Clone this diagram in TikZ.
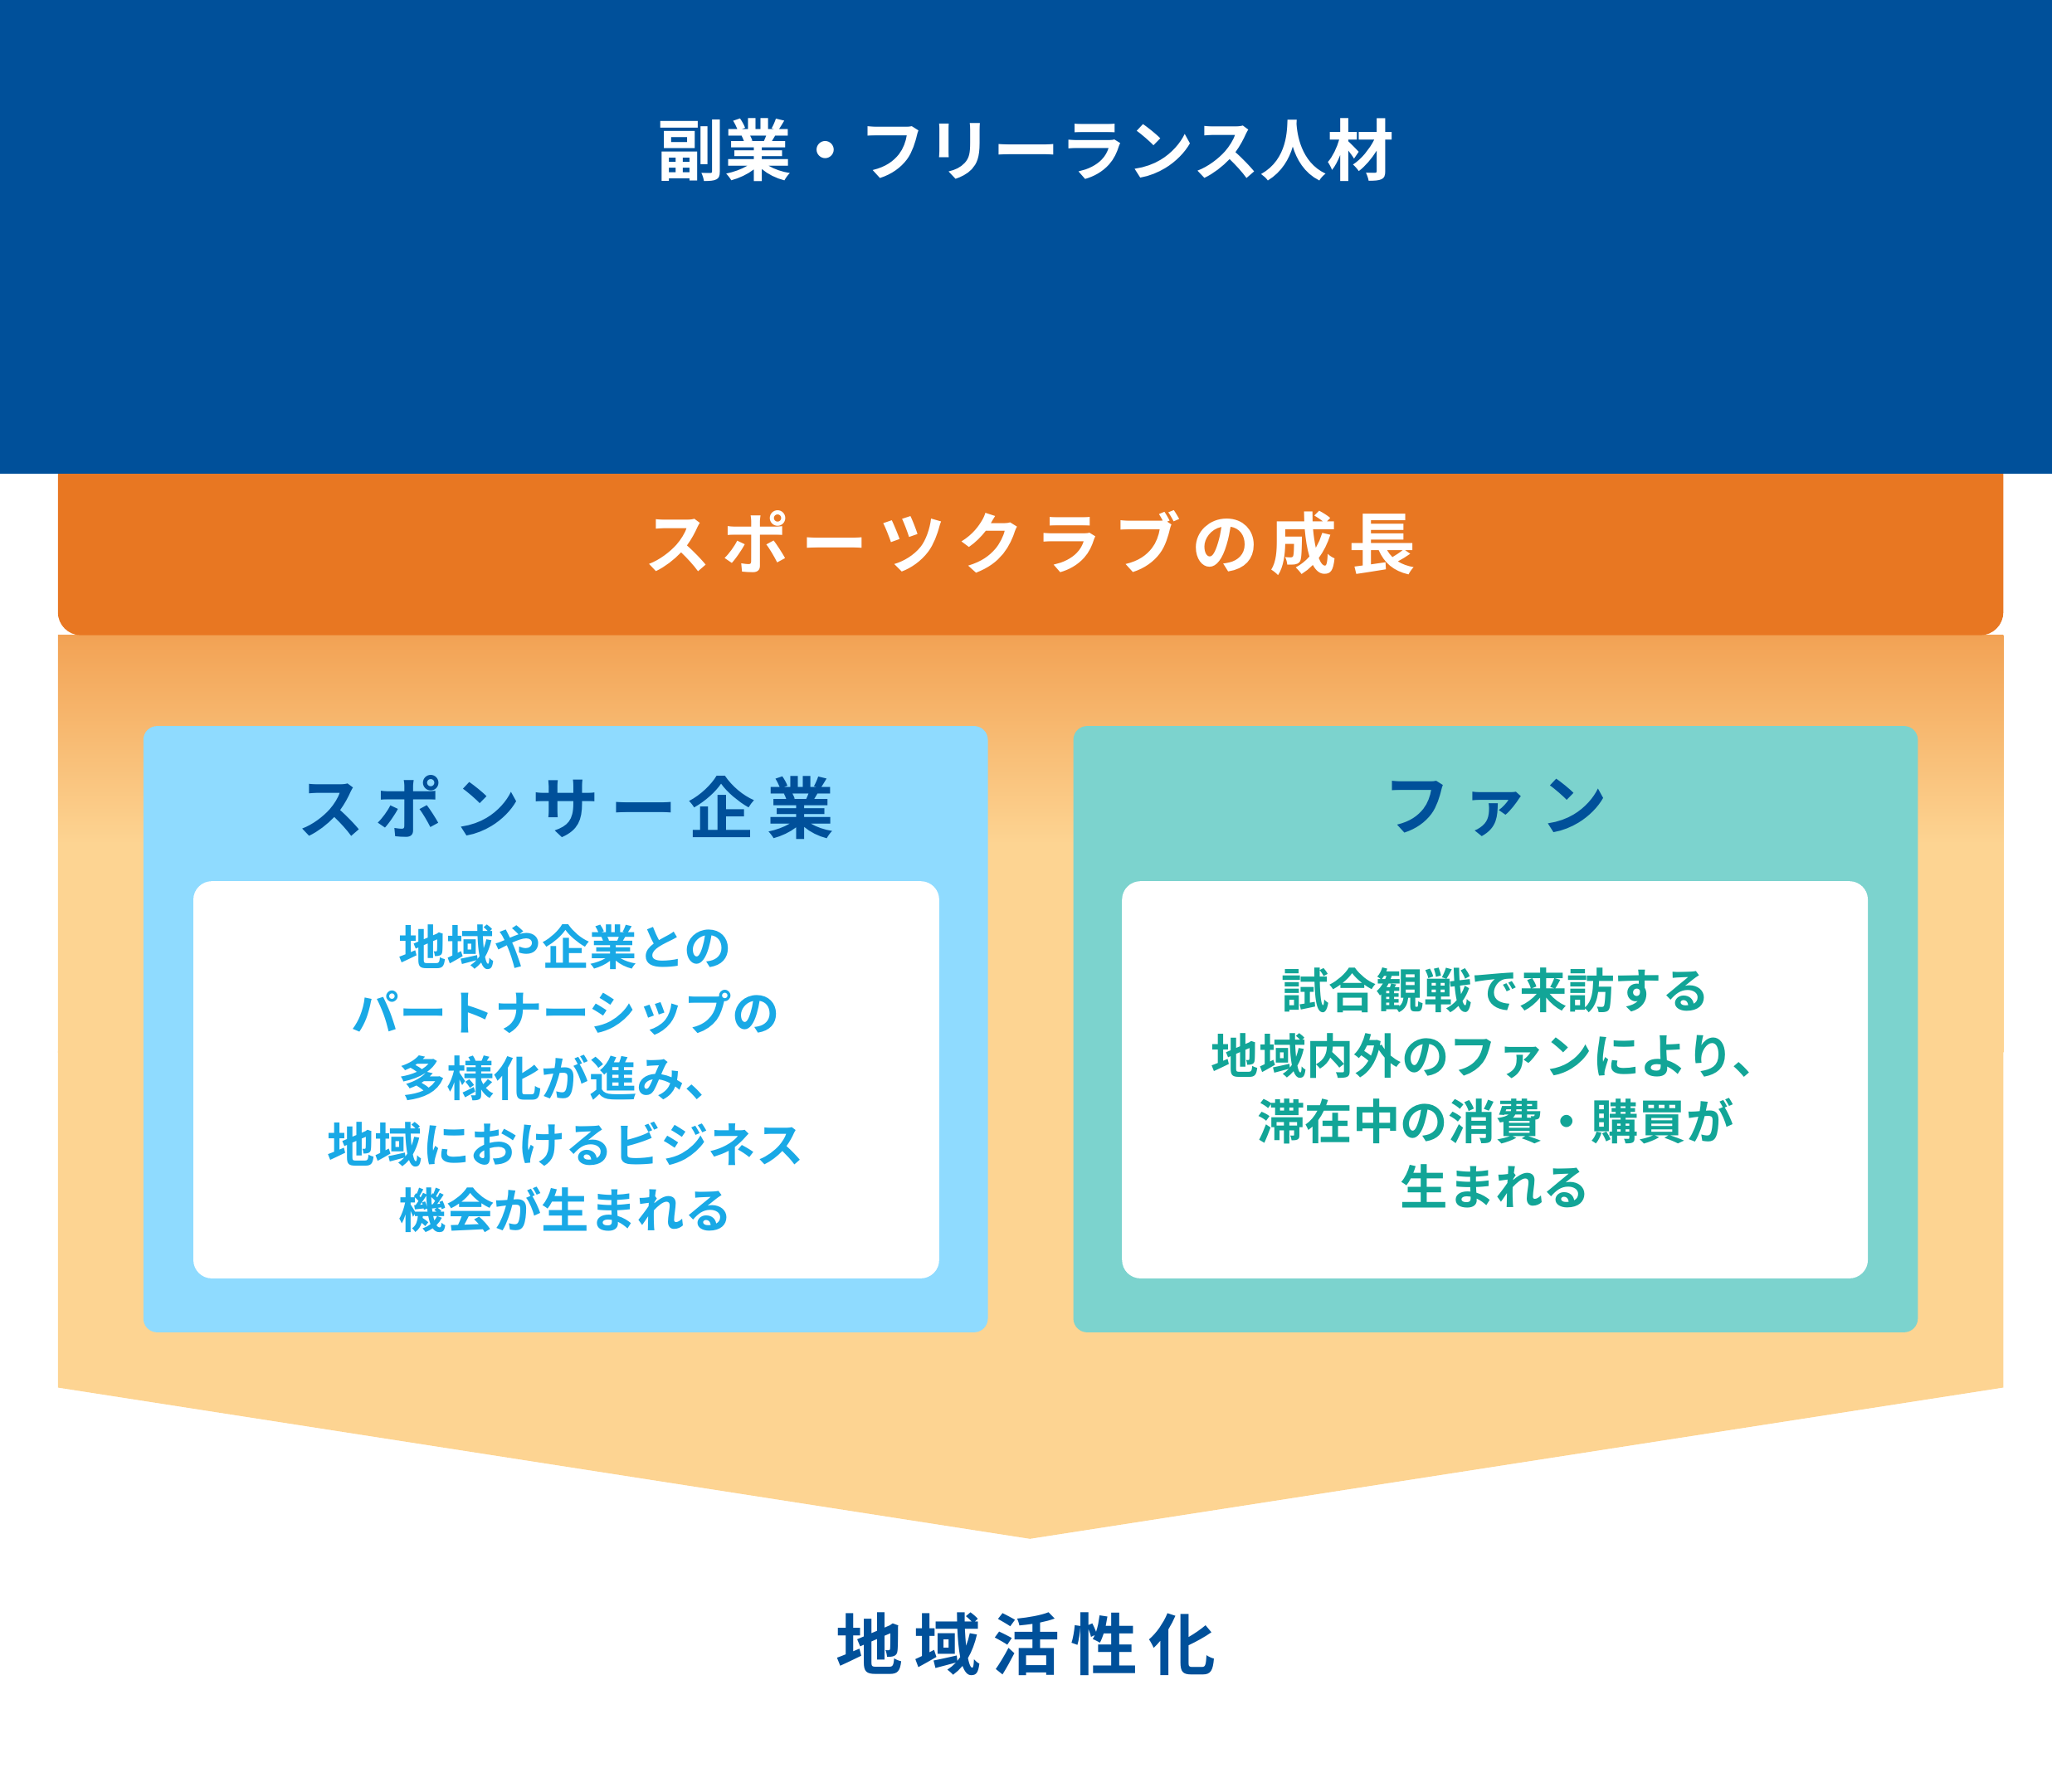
\documentclass[tikz,border=0pt]{standalone}
\usepackage{fontspec}
\setmainfont{Noto Sans CJK JP Bold}
\usetikzlibrary{shapes.misc}
\definecolor{navy}{HTML}{00509A}
\definecolor{orng}{HTML}{E87722}
\definecolor{gtop}{HTML}{F2A254}
\definecolor{gbot}{HTML}{FDD492}
\definecolor{lblue}{HTML}{8FDBFF}
\definecolor{lteal}{HTML}{7CD3CE}
\definecolor{tblue}{HTML}{19A9E6}
\definecolor{tteal}{HTML}{12A597}
\begin{document}
\begin{tikzpicture}[x=0.01cm,y=-0.01cm,
  big/.style={font=\fontsize{14.5pt}{17pt}\selectfont},
  body/.style={font=\fontsize{10.3pt}{14.2pt}\selectfont,align=center}]
\useasboundingbox (0,0) rectangle (1560,1362);
% gradient body
\shade[top color=gtop,bottom color=gbot,middle color=gbot,shading angle=0]
  (44,483) rectangle (1523,800);
\fill[gbot] (44,799) -- (1523,799) -- (1523,1055) -- (783,1170) -- (44,1055) -- cycle;
\fill[orng,rounded corners=5] (44,483) -- (44,342) -- (1523,342) -- (1523,483) -- cycle;
\node[big,text=white] (hdr) at (783,413) {ス\,ポ\,ー\,ツ\,ク\,ラ\,ブ\,の\,成\,長};
% top pill
\node[rounded rectangle,fill=navy,minimum width=704,minimum height=140,big,text=white,inner sep=0] (top) at (780,114) {副業・フリーランス人材};
\fill[navy] (745,183) -- (815,183) -- (815,237) -- (850,237) -- (780,340) -- (710,237) -- (745,237) -- cycle;
% left box
\fill[lblue,rounded corners=3] (109,552) rectangle (751,1013);
\node[big,text=navy] (lt) at (430,614) {ス\,ポ\,ン\,サ\,ー\,企\,業};
\fill[white,rounded corners=4] (147,670) rectangle (714,972);
\node[body,text=tblue] (ltx) at (430,820) {地域や企業との\\パートナーシップの\\多様化が進み、\\地域におけるビジネス\\機会が生まれる};
% right box
\fill[lteal,rounded corners=3] (816,552) rectangle (1458,1013);
\node[big,text=navy] (rt) at (1137,614) {フ\,ァ\,ン};
\fill[white,rounded corners=4] (853,670) rectangle (1420,972);
\node[body,text=tteal] (rtx) at (1137,827) {試合観戦で来訪する\\地域内外のファンにより、\\滞在中の消費・購買が\\生まれる};
\node[big,text=navy] (bot) at (780,1250) {地\,域\,活\,性\,化};
\end{tikzpicture}
\end{document}
